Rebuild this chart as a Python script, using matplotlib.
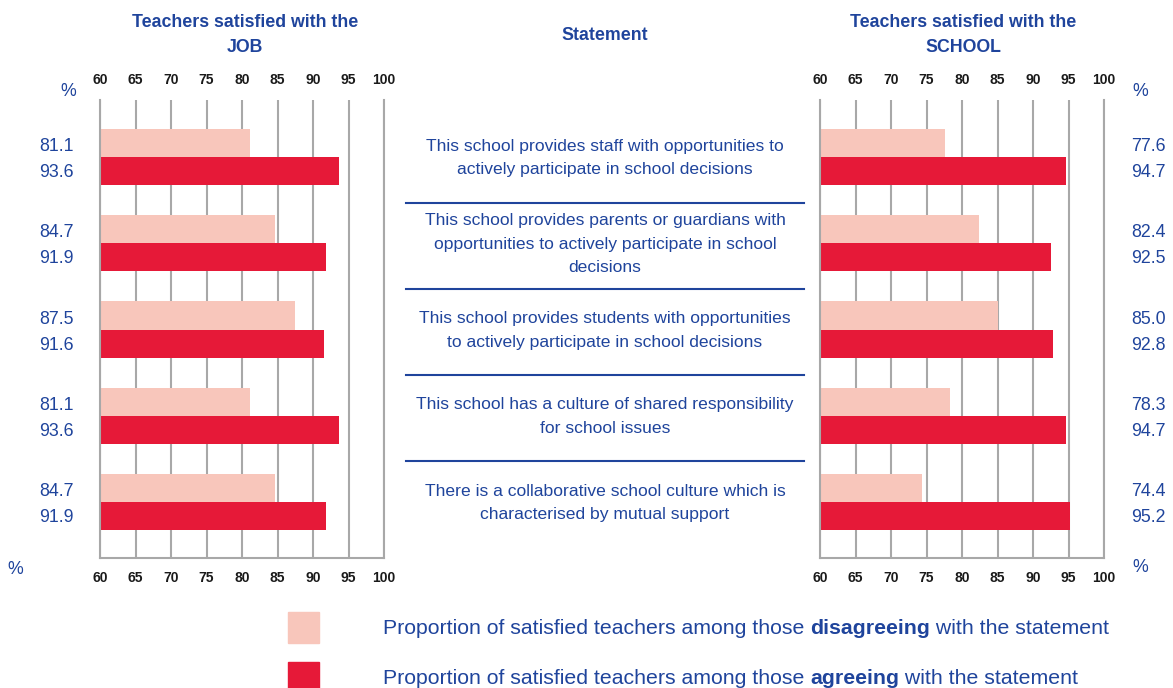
import matplotlib
matplotlib.use("Agg")
import matplotlib.pyplot as plt
from matplotlib.transforms import blended_transform_factory
from matplotlib.patches import Rectangle
from matplotlib.lines import Line2D
import numpy as np

plt.rcParams['font.family'] = ['Liberation Sans', 'DejaVu Sans']

statements = [
    "This school provides staff with opportunities to\nactively participate in school decisions",
    "This school provides parents or guardians with\nopportunities to actively participate in school\ndecisions",
    "This school provides students with opportunities\nto actively participate in school decisions",
    "This school has a culture of shared responsibility\nfor school issues",
    "There is a collaborative school culture which is\ncharacterised by mutual support",
]
job_disagree = [81.1, 84.7, 87.5, 81.1, 84.7]
job_agree = [93.6, 91.9, 91.6, 93.6, 91.9]
school_disagree = [77.6, 82.4, 85.0, 78.3, 74.4]
school_agree = [94.7, 92.5, 92.8, 94.7, 95.2]
xticks = [60, 65, 70, 75, 80, 85, 90, 95, 100]

PALE = '#f8c6bb'
RED = '#e61938'
BLUE = '#1f449c'
GRID = '#a8a8a8'

W, H = 1173, 688
fig = plt.figure(figsize=(W / 100, H / 100), dpi=100)


def fx(x):
    return x / W


def fy(y):
    return 1 - y / H


bar_h = 0.326
ylim = (4.651, -0.663)


def draw_panel(left_px, disagree, agree):
    ax = fig.add_axes([fx(left_px), fy(558), 284 / W, 458 / H])
    pos = np.arange(len(disagree))
    base = 60
    ax.barh(pos - bar_h / 2, np.array(disagree) - base, left=base, height=bar_h,
            color=PALE, zorder=2)
    ax.barh(pos + bar_h / 2, np.array(agree) - base, left=base, height=bar_h,
            color=RED, zorder=2)
    ax.set_xlim(60, 100)
    ax.set_ylim(*ylim)
    ax.set_xticks(xticks)
    ax.set_yticks([])
    ax.xaxis.grid(True, color=GRID, lw=1.5, zorder=0)
    ax.set_axisbelow(True)
    ax.tick_params(axis='x', length=0, pad=9, labeltop=True, labelbottom=True,
                   labelsize=10, labelcolor='#1a1a1a')
    for t in ax.get_xticklabels():
        t.set_fontweight('bold')
    ax.spines['top'].set_visible(False)
    for s in ['left', 'right', 'bottom']:
        ax.spines[s].set_color(GRID)
        ax.spines[s].set_linewidth(1.5)
    return ax


ax_job = draw_panel(100, job_disagree, job_agree)
ax_school = draw_panel(820, school_disagree, school_agree)

# value labels next to each panel
tr_job = blended_transform_factory(fig.transFigure, ax_job.transData)
tr_school = blended_transform_factory(fig.transFigure, ax_school.transData)
lab = dict(va='center', color=BLUE, fontsize=12.8)
for i in range(len(statements)):
    fig.text(fx(74), i - 0.12, f"{job_disagree[i]:.1f}", transform=tr_job, ha='right', **lab)
    fig.text(fx(74), i + 0.18, f"{job_agree[i]:.1f}", transform=tr_job, ha='right', **lab)
    fig.text(fx(1131), i - 0.12, f"{school_disagree[i]:.1f}", transform=tr_school, ha='left', **lab)
    fig.text(fx(1131), i + 0.18, f"{school_agree[i]:.1f}", transform=tr_school, ha='left', **lab)
    fig.text(fx(605), i + 0.01, statements[i], transform=tr_job,
             ha='center', va='center', multialignment='center',
             color=BLUE, fontsize=12.6, linespacing=1.7)

# separators between statements
for i in range(len(statements) - 1):
    fig.add_artist(Line2D([fx(406), fx(804)], [i + 0.53, i + 0.53], transform=tr_job,
                          color=BLUE, lw=1.5))

# percent signs
for x, y in [(68, 92), (1140, 92), (15, 570), (1140, 568)]:
    fig.text(fx(x), fy(y), '%', ha='center', va='center', color=BLUE, fontsize=12.8)

# column headers
head = dict(ha='center', va='center', color=BLUE, fontsize=12.8, fontweight='bold',
            linespacing=1.6)
fig.text(fx(245), fy(35), "Teachers satisfied with the\nJOB", **head)
fig.text(fx(605), fy(36), "Statement", **head)
fig.text(fx(963), fy(35), "Teachers satisfied with the\nSCHOOL", **head)

# legend
renderer = fig.canvas.get_renderer()
legend_rows = [(PALE, 612, "disagreeing"), (RED, 662, "agreeing")]
for color, top, word in legend_rows:
    fig.add_artist(Rectangle((fx(288), fy(top + 31)), 31 / W, 31 / H,
                             transform=fig.transFigure, color=color))
    yc = fy(top + 16)
    x = fx(383)
    parts = [("Proportion of satisfied teachers among those ", 'normal'),
             (word, 'bold'), (" with the statement", 'normal')]
    for txt, weight in parts:
        t = fig.text(x, yc, txt, ha='left', va='center', color=BLUE,
                     fontsize=15.3, fontweight=weight)
        bb = t.get_window_extent(renderer=renderer)
        x += bb.width / W

fig.savefig('out.png', dpi=100, facecolor='white')
